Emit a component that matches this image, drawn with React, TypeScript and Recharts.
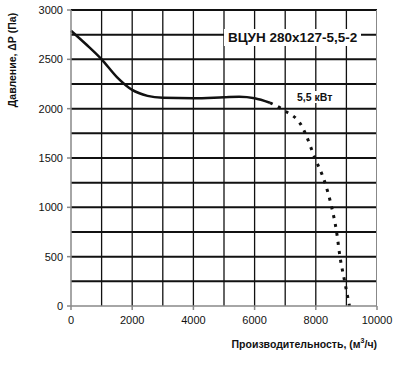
import { ComposedChart, Line, XAxis, YAxis, ReferenceLine } from "recharts";

const solidQ = [0, 500, 1000, 1500, 2000, 2500, 3000, 4000, 5000, 5500, 6000, 6500];
const solidP = [2790, 2650, 2500, 2320, 2190, 2130, 2110, 2105, 2115, 2120, 2105, 2060];

const dottedQ = [6500, 6950, 7550, 7650, 7970, 8300, 8520, 8680, 8790, 8950, 9100];
const dottedP = [2060, 1985, 1820, 1755, 1500, 1250, 1000, 750, 500, 240, 0];

const xTicks = [0, 2000, 4000, 6000, 8000, 10000];
const yTicks = [0, 500, 1000, 1500, 2000, 2500, 3000];
const hGrid = [250, 500, 750, 1000, 1250, 1500, 1750, 2000, 2250, 2500, 2750, 3000];
const vGrid = [1000, 2000, 3000, 4000, 5000, 6000, 7000, 8000, 9000];

const solid = solidQ.map((q, i) => ({ q, p: solidP[i] }));
const dotted = dottedQ.map((q, i) => ({ q, p: dottedP[i] }));

const FONT = "'Liberation Sans', Arial, sans-serif";

export default function App() {
  return (
    <div style={{ position: "fixed", left: 0, top: 0, width: 402, height: 371, background: "#fff", fontFamily: FONT }}>
      <ComposedChart width={402} height={371} margin={{ top: 10, right: 25, bottom: 35, left: 11 }}>
        {vGrid.map((v) => (
          <ReferenceLine key={"v" + v} x={v} stroke="#111" strokeWidth={1.3} />
        ))}
        {hGrid.map((v) => (
          <ReferenceLine key={"h" + v} y={v} stroke="#111" strokeWidth={2} />
        ))}
        <XAxis
          type="number"
          dataKey="q"
          domain={[0, 10000]}
          ticks={xTicks}
          tick={{ fontSize: 11, fill: "#111", fontFamily: FONT }}
          tickSize={4}
          tickMargin={6}
          stroke="#888"
          strokeWidth={1.5}
        />
        <YAxis
          type="number"
          dataKey="p"
          domain={[0, 3000]}
          ticks={yTicks}
          width={60}
          tick={{ fontSize: 11, fill: "#111", fontFamily: FONT }}
          tickSize={4}
          tickMargin={4}
          stroke="#888"
          strokeWidth={1.5}
        />
        <Line
          data={solid}
          dataKey="p"
          type="monotone"
          stroke="#111"
          strokeWidth={2.5}
          dot={false}
          isAnimationActive={false}
        />
        <Line
          data={dotted}
          dataKey="p"
          type="monotone"
          stroke="#111"
          strokeWidth={3}
          strokeDasharray="3 6"
          dot={false}
          isAnimationActive={false}
        />
      </ComposedChart>
      <div style={{ position: "absolute", left: 376, top: 10, width: 0, height: 296, borderRight: "1.5px solid #888", pointerEvents: "none" }} />
      <div
        style={{
          position: "absolute",
          left: 224,
          top: 29,
          padding: "1px 4px",
          background: "#fff",
          fontSize: 13.5,
          fontWeight: "bold",
          color: "#111",
          whiteSpace: "nowrap",
        }}
      >
        ВЦУН 280х127-5,5-2
      </div>
      <div
        style={{
          position: "absolute",
          left: 294,
          top: 91,
          padding: "0 3px",
          background: "#fff",
          fontSize: 10.5,
          fontWeight: "bold",
          color: "#111",
          whiteSpace: "nowrap",
        }}
      >
        5,5 кВт
      </div>
      <div
        style={{
          position: "absolute",
          left: 12,
          top: 60,
          transform: "translate(-50%, -50%) rotate(-90deg)",
          fontSize: 10.5,
          fontWeight: "bold",
          color: "#111",
          whiteSpace: "nowrap",
        }}
      >
        Давление, ΔР (Па)
      </div>
      <div
        style={{
          position: "absolute",
          right: 402 - 377,
          top: 337,
          fontSize: 10.5,
          fontWeight: "bold",
          color: "#111",
          whiteSpace: "nowrap",
        }}
      >
        Производительность, (м<sup style={{ fontSize: 7 }}>3</sup>/ч)
      </div>
    </div>
  );
}
